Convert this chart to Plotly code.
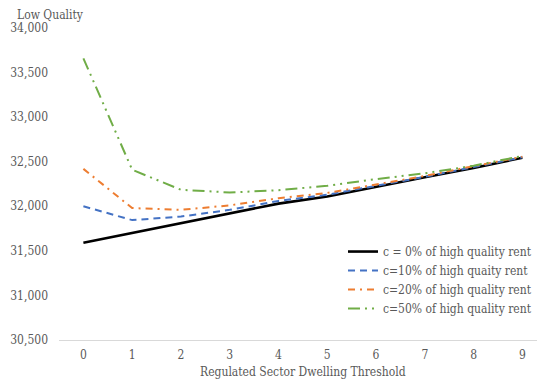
import plotly.graph_objects as go

thresholds = [0, 1, 2, 3, 4, 5, 6, 7, 8, 9]
c0 = [31590, 31700, 31815, 31920, 32030, 32110, 32220, 32325, 32430, 32545]
c10 = [32000, 31845, 31885, 31960, 32060, 32130, 32230, 32330, 32440, 32550]
c20 = [32420, 31980, 31960, 32010, 32090, 32150, 32245, 32340, 32450, 32555]
c50 = [33660, 32410, 32185, 32155, 32180, 32230, 32305, 32370, 32455, 32565]

names = [
    "c = 0% of high quality rent",
    "c=10% of high quaity rent",
    "c=20% of high quality rent",
    "c=50% of high quality rent",
]
y_ticks = [30500, 31000, 31500, 32000, 32500, 33000, 33500, 34000]

FONT = "DejaVu Serif Condensed, DejaVu Serif"
GREY = "#595959"

styles = [
    dict(color="#000000", width=2.6, dash="solid"),
    dict(color="#4472C4", width=2, dash="7px,5px"),
    dict(color="#ED7D31", width=2, dash="7px,5px,2px,5px"),
    dict(color="#70AD47", width=2, dash="12px,5px,2px,5px,2px,5px"),
]

fig = go.Figure()
for name, ys, st in zip(names, [c0, c10, c20, c50], styles):
    fig.add_trace(go.Scatter(x=thresholds, y=ys, mode="lines", name=name, line=st))

fig.update_layout(
    width=537,
    height=384,
    margin=dict(l=58.5, r=0, t=28, b=44),
    plot_bgcolor="white",
    paper_bgcolor="white",
    font=dict(family=FONT, size=12, color=GREY),
    showlegend=True,
    legend=dict(
        x=1.0,
        xanchor="right",
        y=0.33,
        yanchor="top",
        bgcolor="rgba(0,0,0,0)",
        font=dict(family=FONT, size=12, color=GREY),
        tracegroupgap=0,
        itemwidth=30,
    ),
    xaxis=dict(
        range=[-0.5, 9.3],
        tickmode="array",
        tickvals=thresholds,
        ticktext=[str(t) for t in thresholds],
        showgrid=False,
        zeroline=False,
        showline=True,
        linecolor="#D9D9D9",
        linewidth=1,
        ticks="",
        ticklabelstandoff=4,
    ),
    yaxis=dict(
        range=[30500, 34000],
        tickmode="array",
        tickvals=y_ticks,
        ticktext=[f"{v:,}" for v in y_ticks],
        showgrid=False,
        zeroline=False,
        showline=False,
        ticks="",
        ticklabelstandoff=10,
    ),
    annotations=[
        dict(
            text="Low Quality",
            xref="paper", yref="paper",
            x=-0.093, y=1.042,
            xanchor="left", yanchor="middle",
            showarrow=False,
            font=dict(family=FONT, size=12, color=GREY),
        ),
        dict(
            text="Regulated Sector Dwelling Threshold",
            xref="x", yref="paper",
            x=4.5, y=-0.102,
            xanchor="center", yanchor="middle",
            showarrow=False,
            font=dict(family=FONT, size=12, color=GREY),
        ),
    ],
)

fig.write_html("out.html")
